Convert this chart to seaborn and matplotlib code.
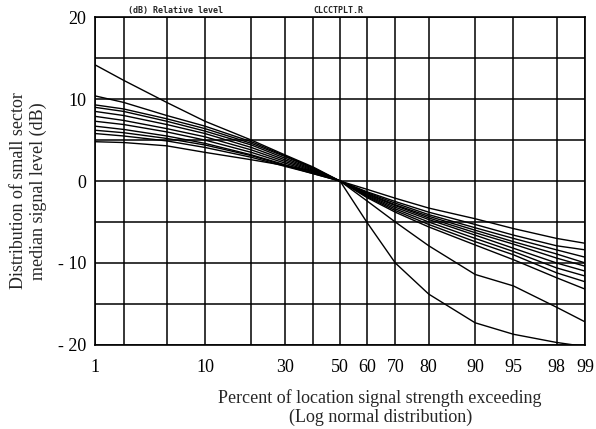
import numpy as np
import pandas as pd
import seaborn as sns
from matplotlib import pyplot as plt
from statistics import NormalDist

# 横轴百分比节点（正态概率纸）
percent = [1, 2, 5, 10, 20, 30, 40, 50, 60, 70, 80, 90, 95, 98, 99]
xtick_labels = ['1', '', '', '10', '', '30', '', '50', '60', '70', '80', '90', '95', '98', '99']
yticks = [-20, -15, -10, -5, 0, 5, 10, 15, 20]
ytick_labels = ['- 20', '', '- 10', '', '0', '', '10', '', '20']

# 各条曲线 (dB)，按 percent 节点读数
line_01 = [14.2, 12.3, 9.6, 7.3, 5.0, 3.2, 1.7, 0, -1.0, -2.1, -3.3, -4.6, -5.8, -7.0, -7.6]
line_02 = [10.4, 9.6, 8.0, 6.7, 4.8, 3.1, 1.6, 0, -1.3, -2.5, -3.8, -5.3, -6.6, -7.9, -8.4]
line_03 = [9.3, 8.8, 7.6, 6.4, 4.6, 3.0, 1.5, 0, -1.4, -2.7, -4.1, -5.7, -7.0, -8.4, -9.3]
line_04 = [9.0, 8.5, 7.3, 6.1, 4.4, 2.8, 1.4, 0, -1.5, -2.9, -4.3, -6.0, -7.4, -8.9, -10.0]
line_05 = [8.5, 8.0, 6.9, 5.8, 4.1, 2.6, 1.3, 0, -1.6, -3.0, -4.5, -6.3, -7.7, -9.4, -10.4]
line_06 = [7.9, 7.4, 6.4, 5.4, 3.8, 2.4, 1.2, 0, -1.7, -3.2, -4.7, -6.6, -8.2, -10.0, -11.0]
line_07 = [7.3, 6.9, 6.0, 5.0, 3.5, 2.2, 1.1, 0, -1.8, -3.4, -5.0, -7.0, -8.6, -10.6, -11.6]
line_08 = [6.7, 6.3, 5.5, 4.6, 3.2, 2.0, 1.0, 0, -1.9, -3.6, -5.3, -7.4, -9.0, -11.2, -12.3]
line_09 = [5.8, 5.5, 4.9, 4.1, 2.9, 1.8, 0.9, 0, -2.0, -3.8, -5.6, -7.8, -9.6, -11.8, -13.2]
line_10 = [6.2, 5.9, 5.2, 4.4, 3.1, 1.9, 0.9, 0, -2.4, -5.0, -7.9, -11.4, -12.8, -15.4, -17.2]
line_11 = [4.8, 4.7, 4.3, 3.5, 2.6, 1.9, 1.2, 0, -5.0, -10.0, -13.8, -17.3, -18.7, -19.7, -20.2]

lines = [line_01, line_02, line_03, line_04, line_05, line_06,
         line_07, line_08, line_09, line_10, line_11]

df = pd.DataFrame({
    'percent': percent * len(lines),
    'level': np.concatenate(lines),
    'line': np.repeat(np.arange(len(lines)), len(percent)),
})

# 正态概率坐标
nd = NormalDist()
fwd = np.vectorize(lambda p: nd.inv_cdf(min(max(p, 1e-6), 100 - 1e-6) / 100.0), otypes=[float])
inv = np.vectorize(lambda z: nd.cdf(z) * 100.0, otypes=[float])

sns.set_style('white')
plt.rcParams['font.family'] = ['Liberation Serif', 'DejaVu Serif']

fig = plt.figure(figsize=(5.96, 4.29), dpi=100)
ax = fig.add_axes([0.159, 0.196, 0.823, 0.764])
ax.set_xscale('function', functions=(fwd, inv))

sns.lineplot(data=df, x='percent', y='level', units='line', estimator=None,
             color='black', linewidth=1.0, legend=False, ax=ax)

ax.set_xlim(1, 99)
ax.set_ylim(-20, 20)
ax.set_xticks(percent)
ax.set_xticklabels(xtick_labels)
ax.set_yticks(yticks)
ax.set_yticklabels(ytick_labels)
ax.minorticks_off()
ax.grid(True, color='black', linewidth=1.1)
ax.tick_params(axis='both', labelsize=13, length=0, colors='black')
ax.tick_params(axis='x', pad=10)
ax.tick_params(axis='y', pad=6)
for s in ax.spines.values():
    s.set_color('black')
    s.set_linewidth(1.2)
ax.set_xlabel('')
ax.set_ylabel('')

fig.text(0.048, 0.555, 'Distribution of small sector\nmedian signal level (dB)',
         rotation=90, ha='center', va='center', fontsize=13, linespacing=1.2)
fig.text(0.638, 0.05, 'Percent of location signal strength exceeding\n(Log normal distribution)',
         ha='center', va='center', fontsize=13, linespacing=1.1)
fig.text(0.215, 0.964, '(dB) Relative level', fontsize=6, family='DejaVu Sans Mono',
         weight='bold', va='bottom')
fig.text(0.525, 0.964, 'CLCCTPLT.R', fontsize=6, family='DejaVu Sans Mono',
         weight='bold', va='bottom')

fig.savefig('out.png', dpi=100)
